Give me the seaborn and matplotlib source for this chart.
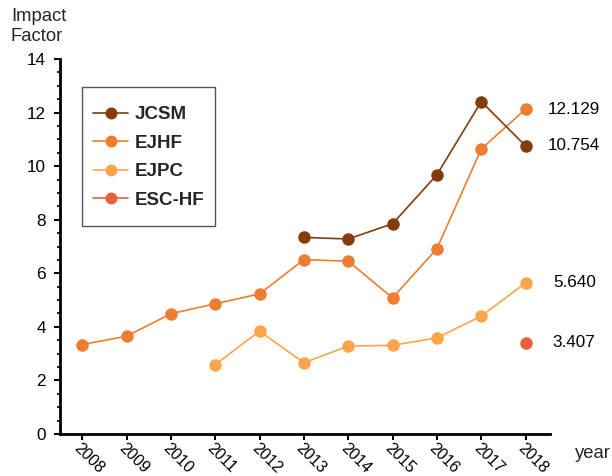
import matplotlib
matplotlib.use("Agg")
import matplotlib.pyplot as plt
from matplotlib.ticker import MultipleLocator
from matplotlib.lines import Line2D
from matplotlib.patches import Rectangle
import seaborn as sns
import pandas as pd

years = list(range(2008, 2019))
tick_labels = [str(y) for y in years]

jcsm_years = [2013, 2014, 2015, 2016, 2017, 2018]
jcsm_vals = [7.34, 7.28, 7.85, 9.68, 12.41, 10.754]

ejhf_years = list(range(2008, 2019))
ejhf_vals = [3.34, 3.65, 4.49, 4.86, 5.23, 6.51, 6.45, 5.08, 6.92, 10.64, 12.129]

ejpc_years = [2011, 2012, 2013, 2014, 2015, 2016, 2017, 2018]
ejpc_vals = [2.59, 3.84, 2.66, 3.28, 3.31, 3.59, 4.40, 5.640]

eschf_years = [2018]
eschf_vals = [3.407]

journals = ["JCSM", "EJHF", "EJPC", "ESC-HF"]
colors = ["#843C0C", "#ED7D31", "#FDA54A", "#E8603A"]
end_labels = ["10.754", "12.129", "5.640", "3.407"]

rows = []
for name, ys, vs in [("JCSM", jcsm_years, jcsm_vals), ("EJHF", ejhf_years, ejhf_vals),
                     ("EJPC", ejpc_years, ejpc_vals), ("ESC-HF", eschf_years, eschf_vals)]:
    for y, v in zip(ys, vs):
        rows.append({"year": y, "value": v, "journal": name})
df = pd.DataFrame(rows)

sns.set_theme(style="ticks")
plt.rcParams["font.family"] = ["Liberation Sans", "DejaVu Sans"]

W, H = 612, 476
fig = plt.figure(figsize=(W / 100, H / 100), dpi=100)
ax = fig.add_axes([60 / W, 1 - 434 / H, 490 / W, 375 / H])

palette = dict(zip(journals, colors))
MS = 9.0
LW = 1.2
draw_order = ["ESC-HF", "EJPC", "EJHF", "JCSM"]
for name in draw_order:
    sub = df[df["journal"] == name]
    sns.lineplot(data=sub, x="year", y="value", color=palette[name], marker="o",
                 markersize=MS, markeredgewidth=0, linewidth=LW, ax=ax, legend=False)

# end annotations
for name, lab in zip(journals, end_labels):
    sub = df[df["journal"] == name]
    last = sub.iloc[-1]
    ax.annotate(lab, (last["year"], last["value"]), xytext=(35, 0),
                textcoords="offset points", ha="center", va="center",
                fontsize=12.3, color="black", annotation_clip=False)

ax.set_xlim(2007.5, 2018.55)
ax.set_ylim(0, 14)
ax.yaxis.set_major_locator(MultipleLocator(2))
ax.yaxis.set_minor_locator(MultipleLocator(0.5))
ax.set_xticks(years)
ax.set_xticklabels(tick_labels, rotation=-45, ha="left", va="top", rotation_mode="anchor")
ax.tick_params(axis="both", which="major", length=4, width=1.5, colors="black")
ax.tick_params(axis="y", which="major", labelsize=12.3, pad=6)
ax.tick_params(axis="x", which="major", labelsize=11.5, pad=0.5)
ax.tick_params(axis="y", which="minor", length=2.5, width=1.5)
sns.despine(ax=ax)
for s in ["left", "bottom"]:
    ax.spines[s].set_linewidth(2)
    ax.spines[s].set_color("black")
ax.set_xlabel("")
ax.set_ylabel("")

fig.text(11 / W, 1 - 8 / H, "Impact\nFactor", ha="left", va="top", fontsize=13.3,
         linespacing=1.2)
fig.text(575 / W, 1 - 453 / H, "year", ha="left", va="center", fontsize=13.3)

# legend frame
fig.patches.append(Rectangle((82 / W, 1 - 226 / H), 133 / W, 139 / H,
                             transform=fig.transFigure, facecolor="white",
                             edgecolor="#555555", linewidth=1.0, zorder=5))

handles = [Line2D([0], [0], color=c, marker="o", markersize=8.6, markeredgewidth=0,
                  linewidth=LW) for c in colors]
leg = fig.legend(handles, journals, loc="center left",
                 bbox_to_anchor=(93 / W, 1 - 157.5 / H), bbox_transform=fig.transFigure,
                 borderaxespad=0, frameon=False, borderpad=0,
                 prop={"weight": "bold", "size": 13.5}, labelspacing=0.6,
                 handlelength=1.87, handletextpad=0.37)
leg.set_zorder(6)

fig.savefig("out.png", dpi=100)
